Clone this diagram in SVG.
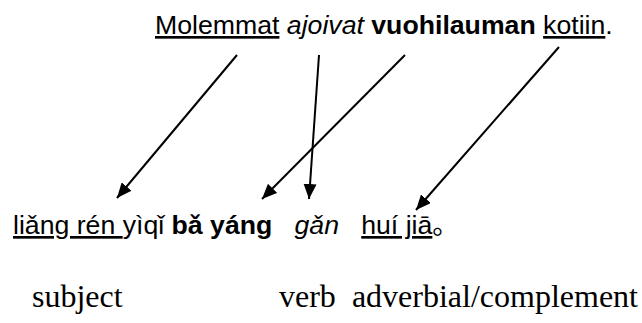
<svg xmlns="http://www.w3.org/2000/svg" width="642" height="323" viewBox="0 0 642 323">
<style>
.s{font-family:"Liberation Sans",Arial,"Noto Sans CJK SC",sans-serif;font-size:26.67px;fill:#000}
.t{font-family:"Liberation Serif","Times New Roman",serif;font-size:32px;fill:#000}
.u{text-decoration:underline}
.c{stroke:#000;stroke-width:2;fill:none}
</style>
<defs>
<marker id="ah" viewBox="0 0 15 13" refX="15" refY="6.5" markerWidth="15" markerHeight="13" orient="auto" markerUnits="userSpaceOnUse">
<path d="M0,0 L15,6.5 L0,13 z" fill="#000"/>
</marker>
</defs>
<rect width="642" height="323" fill="#fff"/>
<g id="finnish">
<text class="s" x="155" y="34" xml:space="preserve"><tspan class="u">Molemmat</tspan> <tspan font-style="italic">ajoivat</tspan> <tspan font-weight="bold">vuohilauman</tspan> <tspan class="u">kotiin</tspan>.</text>
</g>
<g id="chinese">
<text class="s" x="13" y="234" xml:space="preserve"><tspan class="u">liǎng rén </tspan>yìqǐ <tspan font-weight="bold">bǎ yáng</tspan>   <tspan font-style="italic">gǎn</tspan>   <tspan class="u">huí jiā</tspan>。</text>
</g>
<g id="roles">
<text class="t" x="32" y="307">subject</text>
<text class="t" x="279" y="307">verb</text>
<text class="t" x="638" y="307" text-anchor="end">adverbial/complement</text>
</g>
<g id="connectors">
<line class="c" x1="237" y1="55" x2="117" y2="198" marker-end="url(#ah)"/>
<line class="c" x1="319" y1="55" x2="309" y2="199" marker-end="url(#ah)"/>
<line class="c" x1="405" y1="55" x2="262" y2="199" marker-end="url(#ah)"/>
<line class="c" x1="559" y1="47" x2="416" y2="210" marker-end="url(#ah)"/>
</g>
</svg>
